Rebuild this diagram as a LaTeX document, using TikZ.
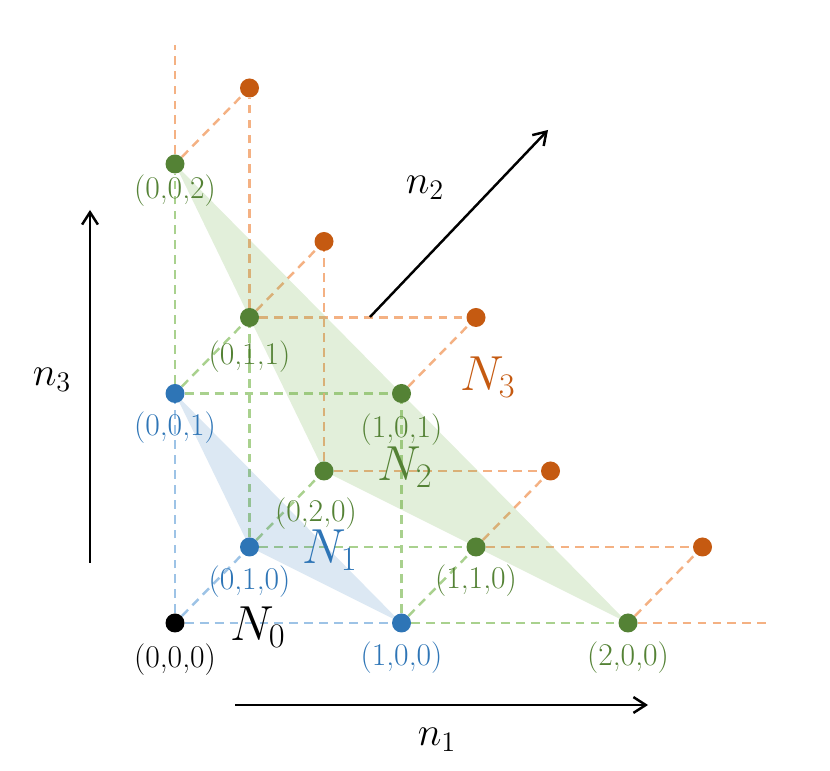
\documentclass[tikz,border=0pt]{standalone}
\usepackage{fix-cm}
\usepackage{amsmath}
\usepackage{tikz}
\usetikzlibrary{arrows.meta,backgrounds}

\definecolor{cblue}{HTML}{2E75B6}
\definecolor{cgreen}{HTML}{548235}
\definecolor{corange}{HTML}{C55A11}
\definecolor{lblue}{HTML}{9DC3E6}
\definecolor{lgreen}{HTML}{A9D18E}
\definecolor{lorange}{HTML}{F4B183}
\definecolor{fgreen}{HTML}{70AD47}

\begin{document}
\begin{tikzpicture}[x={(4.53cm,0cm)}, y={(1.49cm,1.52cm)}, z={(0cm,4.59cm)},
	dot/.style={circle, inner sep=0pt, minimum size=0.38cm},
	lbl/.style={font=\fontsize{18}{20}\selectfont, anchor=north, inner sep=2pt},
	latt/.style={line width=1.4pt, dash pattern=on 5pt off 3.5pt},
	axarrow/.style={line width=1.4pt, -{Straight Barb[length=7pt,width=9pt]}},
	bigN/.style={font=\fontsize{28}{32}\selectfont},
	smalln/.style={font=\fontsize{23}{26}\selectfont}] %one px of the sketch is 0.02cm
			\useasboundingbox (-3.5cm,-2.96cm) rectangle (13.1cm,12.46cm);
			\foreach \a/\b/\c/\col/\dy/\dx in {0/0/0/black/-0.15/0, 1/0/0/cblue/-0.1/0, 0/1/0/cblue/-0.1/0, 0/0/1/cblue/-0.1/0,
				2/0/0/cgreen/-0.1/0, 1/1/0/cgreen/-0.08/0, 0/2/0/cgreen/-0.27/-0.16, 1/0/1/cgreen/-0.13/0, 0/1/1/cgreen/-0.19/0, 0/0/2/cgreen/0.05/0}
				{\node[dot, fill=\col] (p\a\b\c) at (\a,\b,\c) {};
				\node[lbl, text=\col] (t\a\b\c) at ([xshift=\dx cm, yshift=\dy cm]p\a\b\c.south) {(\a,\b,\c)};};
			\foreach \a/\b/\c in {2/1/0, 1/2/0, 1/1/1, 0/2/1, 0/1/2}
				{\node[dot, fill=corange] (p\a\b\c) at (\a,\b,\c) {};};
			\coordinate (e300) at (2.63,0,0);
			\coordinate (e003) at (0,0,2.52);
			\begin{pgfonlayer}{background}
			\foreach \u/\v in {000/100, 000/010, 000/001}
				{\draw[latt, lblue] (p\u) -- (p\v);};
			\foreach \u/\v in {100/200, 100/110, 100/101, 010/110, 010/020, 010/011, 001/101, 001/011, 001/002}
				{\draw[latt, lgreen] (p\u) -- (p\v);};
			\foreach \u/\v in {200/210, 110/210, 110/120, 020/120, 020/021, 101/111, 011/111, 011/021, 011/012, 002/012}
				{\draw[latt, lorange] (p\u) -- (p\v);};
			\draw[latt, lorange] (p200) -- (e300);
			\draw[latt, lorange] (p002) -- (e003);
			\fill[fgreen, fill opacity=0.2] (p002.center) -- (p020.center) -- (p200.center) -- cycle;
			\fill[cblue, fill opacity=0.17] (p001.center) -- (p010.center) -- (p100.center) -- cycle;
			\end{pgfonlayer}
			\node[bigN] (N0) at (1.66cm,-0.08cm) {$N_0$};
			\node[bigN, text=cblue] (N1) at (3.1cm,1.46cm) {$N_1$};
			\node[bigN, text=cgreen] (N2) at (4.6cm,3.12cm) {$N_2$};
			\node[bigN, text=corange] (N3) at (6.26cm,4.92cm) {$N_3$};
			\coordinate (a1s) at (1.2cm,-1.64cm);
			\coordinate (a1e) at (9.46cm,-1.64cm);
			\coordinate (a3s) at (-1.7cm,1.2cm);
			\coordinate (a3e) at (-1.7cm,8.26cm);
			\coordinate (a2s) at (3.9cm,6.12cm);
			\coordinate (a2e) at (7.46cm,9.86cm);
			\draw[axarrow] (a1s) -- (a1e);
			\draw[axarrow] (a3s) -- (a3e);
			\draw[axarrow] (a2s) -- (a2e);
			\node[smalln] (n1) at (5.24cm,-2.34cm) {$n_1$};
			\node[smalln] (n3) at (-2.46cm,4.86cm) {$n_3$};
			\node[smalln] (n2) at (5.0cm,8.7cm) {$n_2$};
\end{tikzpicture}
\end{document}
